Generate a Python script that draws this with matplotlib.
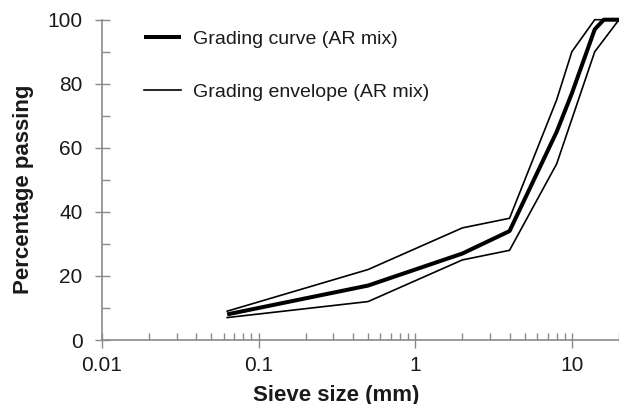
import matplotlib
matplotlib.use("Agg")
import matplotlib.pyplot as plt
from matplotlib.ticker import LogLocator, FixedLocator, FuncFormatter

plt.rcParams['font.family'] = ['Liberation Sans', 'DejaVu Sans']

# Data
curve_size = [0.063, 0.5, 2, 4, 8, 10, 14, 16, 20]
curve_pass = [8, 17, 27, 34, 65, 77, 97, 100, 100]

upper_size = [0.063, 0.5, 2, 4, 8, 10, 14, 20]
upper_pass = [9, 22, 35, 38, 75, 90, 100, 100]

lower_size = [0.063, 0.5, 2, 4, 8, 14, 20]
lower_pass = [7, 12, 25, 28, 55, 90, 100]

x_ticks = [0.01, 0.1, 1, 10]
x_ticklabels = ["0.01", "0.1", "1", "10"]
y_ticks = [0, 20, 40, 60, 80, 100]
y_minor = [10, 30, 50, 70, 90]

W, H = 619, 404
fig = plt.figure(figsize=(W / 100, H / 100), dpi=100)
left, right, bottom, top = 102, 619, 340, 19.7
aw, ah = right - left, bottom - top
ax = fig.add_axes([left / W, (H - bottom) / H, aw / W, ah / H])

ax.set_xscale('log')
ax.plot(curve_size, curve_pass, color='black', lw=2.9, solid_capstyle='butt',
        solid_joinstyle='round', clip_on=False, label='Grading curve (AR mix)', zorder=3)
ax.plot(upper_size, upper_pass, color='black', lw=1.2, clip_on=False,
        label='Grading envelope (AR mix)', zorder=2)
ax.plot(lower_size, lower_pass, color='black', lw=1.2, clip_on=False, zorder=2)

ax.set_xlim(0.01, 20)
ax.set_ylim(0, 100)

gray = '#8a8a8a'
for s in ['top', 'right']:
    ax.spines[s].set_visible(False)
for s in ['left', 'bottom']:
    ax.spines[s].set_color(gray)
    ax.spines[s].set_linewidth(1.2)

ax.xaxis.set_major_locator(FixedLocator(x_ticks))
ax.set_xticklabels(x_ticklabels)
ax.xaxis.set_minor_locator(LogLocator(base=10, subs=range(2, 10), numticks=20))
ax.xaxis.set_minor_formatter(FuncFormatter(lambda v, p: ''))
ax.yaxis.set_major_locator(FixedLocator(y_ticks))
ax.yaxis.set_minor_locator(FixedLocator(y_minor))

ax.tick_params(which='major', direction='inout', length=10.8, width=1.0, color=gray,
               labelsize=15, labelcolor='#1a1a1a')
ax.tick_params(axis='x', which='major', pad=6)
ax.tick_params(axis='y', which='major', pad=8.5)
ax.tick_params(which='minor', direction='in', length=5.4, width=1.0, color=gray)

ax.set_xlabel('Sieve size (mm)', fontsize=16, fontweight='bold', color='#1a1a1a')
ax.xaxis.label.set_verticalalignment('baseline')
ax.xaxis.set_label_coords((336 - left) / aw, (bottom - 400.5) / ah)
ax.set_ylabel('Percentage passing', fontsize=16, fontweight='bold', color='#1a1a1a')
ax.yaxis.set_label_coords((34 - left) / aw, (bottom - 189) / ah)

leg = ax.legend(loc='upper left', bbox_to_anchor=((144 - left) / aw, (bottom - 30) / ah),
                frameon=False, fontsize=14, handlelength=1.9, handletextpad=0.62,
                labelspacing=1.85, borderpad=0, borderaxespad=0)
for t in leg.get_texts():
    t.set_color('#1a1a1a')

fig.savefig('out.png', dpi=100)
